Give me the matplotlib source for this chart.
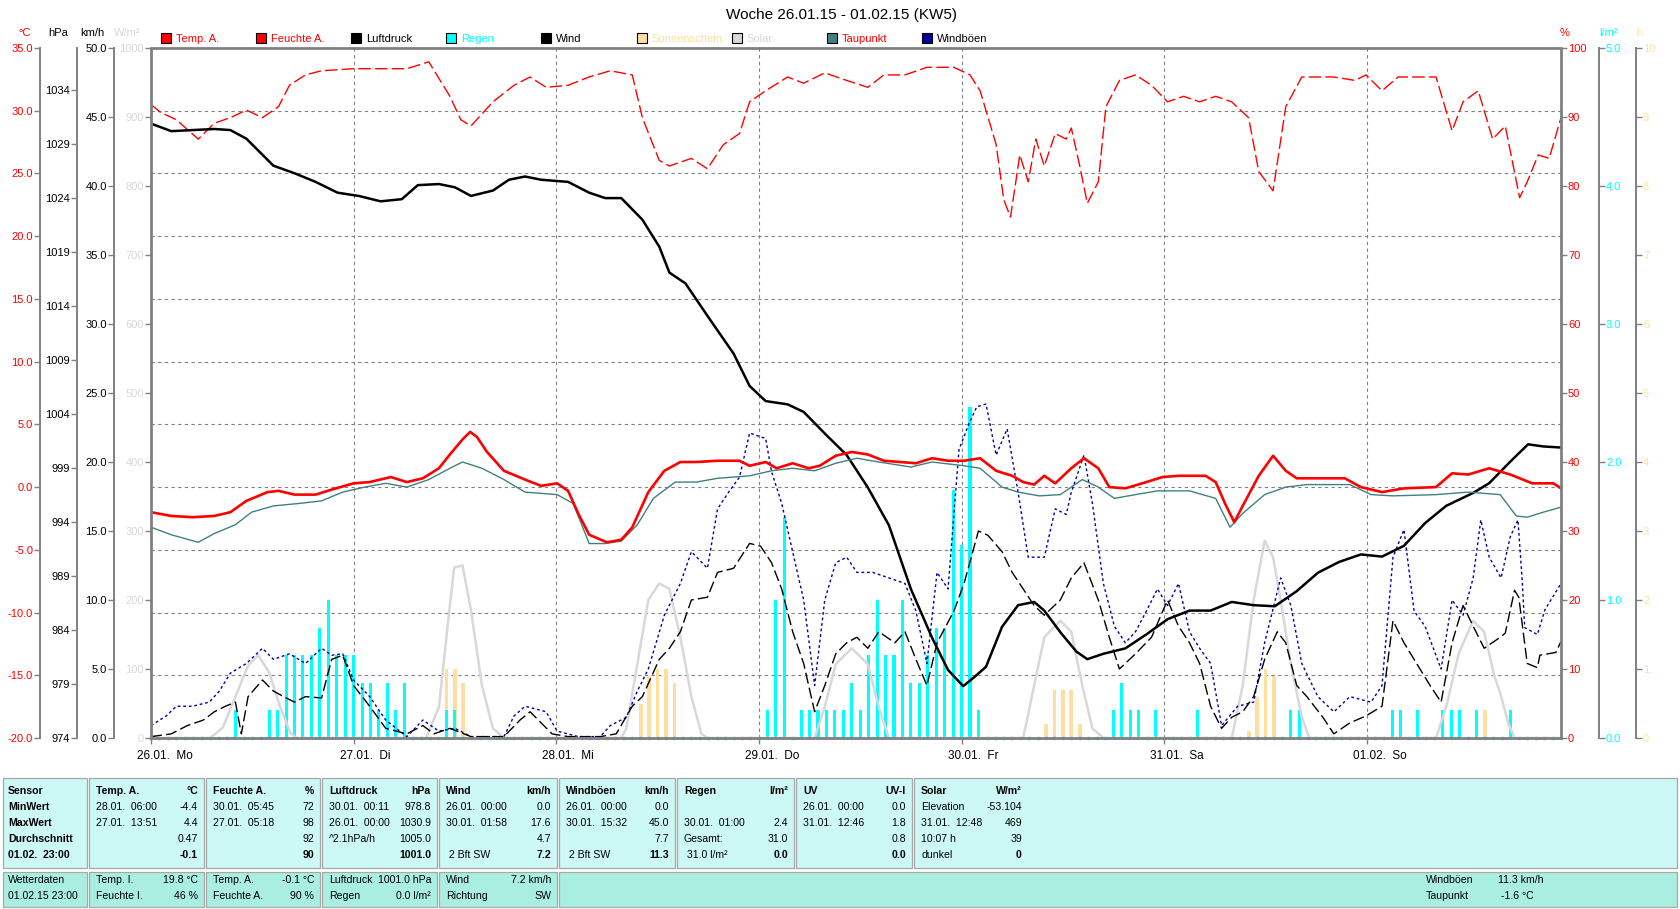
import matplotlib
matplotlib.use('Agg')
import matplotlib.pyplot as plt
import matplotlib.transforms as mtrans
from matplotlib.patches import Rectangle

plt.rcParams['font.family'] = ['Liberation Sans', 'DejaVu Sans']

# ---------------- data (hours since 26.01. 00:00) ----------------
day_hours = [0, 24, 48, 72, 96, 120, 144]
day_labels = ['26.01.  Mo', '27.01.  Di', '28.01.  Mi', '29.01.  Do',
              '30.01.  Fr', '31.01.  Sa', '01.02.  So']

temp_h = [0, 2.4, 4.9, 7.5, 9.4, 11.3, 13.8, 15.1, 17.0, 19.5, 21.4, 24.0, 25.9, 28.4,
          30.3, 32.2, 34.1, 35.4, 36.9, 37.8, 38.6, 39.8, 41.8, 44.3, 46.2, 48.1, 49.4,
          50.6, 51.9, 54.0, 55.7, 57.0, 58.9, 60.8, 62.7, 64.6, 67.1, 69.7, 70.9, 72.8,
          74.1, 76.0, 77.9, 79.2, 81.1, 83.0, 84.9, 86.8, 88.7, 90.6, 92.5, 94.4, 96.3,
          98.2, 100.1, 102.0, 103.3, 104.6, 105.8, 107.1, 109.0, 110.5, 112.2, 113.5,
          115.4, 117.9, 119.8, 121.7, 124.9, 126.1, 127.2, 128.3, 129.3, 131.2, 132.9,
          134.4, 135.7, 138.2, 141.4, 143.3, 145.8, 148.4, 152.2, 154.1, 156.0, 158.5,
          161.0, 163.6, 166.1, 167.0]
temp_v = [-2.0, -2.3, -2.4, -2.3, -2.0, -1.1, -0.4, -0.3, -0.6, -0.6, -0.2, 0.3, 0.4, 0.8,
          0.4, 0.7, 1.5, 2.6, 3.8, 4.4, 4.0, 2.8, 1.3, 0.6, 0.1, 0.3, -0.3,
          -2.1, -3.8, -4.4, -4.2, -3.2, -0.4, 1.3, 2.0, 2.0, 2.1, 2.1, 1.7, 2.0,
          1.5, 1.9, 1.5, 1.7, 2.5, 2.8, 2.6, 2.1, 2.0, 1.9, 2.3, 2.1, 2.1,
          2.3, 1.3, 0.9, 0.4, 0.2, 0.9, 0.3, 1.5, 2.3, 1.5, 0.0,
          -0.1, 0.4, 0.8, 0.9, 0.9, 0.4, -1.3, -2.8, -1.5, 0.9, 2.5,
          1.3, 0.7, 0.7, 0.7, 0.0, -0.4, -0.1, 0.0, 1.1, 1.0, 1.5,
          1.0, 0.3, 0.3, -0.1]

dew_h = [0, 2.4, 5.6, 7.5, 10.0, 11.9, 14.5, 17.6, 20.2, 22.7, 25.3, 27.8, 30.3, 32.9,
         35.4, 36.9, 39.2, 41.8, 44.3, 48.1, 50.0, 51.9, 53.8, 55.7, 57.6, 59.5, 62.1,
         64.6, 67.1, 70.9, 73.5, 76.0, 78.6, 81.1, 83.6, 86.2, 90.0, 92.5, 96.3, 98.2,
         100.8, 102.7, 105.2, 107.7, 110.3, 112.2, 114.1, 116.6, 119.2, 123.0, 126.1,
         127.8, 129.3, 131.9, 134.4, 136.9, 142.0, 144.5, 147.1, 152.2, 156.0, 159.8,
         161.7, 163.0, 164.9, 167.0]
dew_v = [-3.2, -3.8, -4.4, -3.7, -3.0, -2.0, -1.5, -1.3, -1.1, -0.4, 0.0, 0.3, 0.0, 0.6,
         1.5, 2.0, 1.5, 0.6, -0.4, -0.6, -1.3, -4.5, -4.5, -4.3, -3.0, -0.9, 0.4,
         0.4, 0.7, 0.9, 1.3, 1.5, 1.3, 1.9, 2.3, 2.0, 1.6, 2.0, 1.7, 1.5,
         0.0, -0.4, -0.7, -0.6, 0.6, 0.0, -0.9, -0.6, -0.3, -0.3, -0.9,
         -3.2, -2.1, -0.6, 0.0, 0.2, 0.2, -0.6, -0.7, -0.6, -0.4, -0.6,
         -2.3, -2.4, -2.0, -1.6]

hum_h = [0, 1.1, 3.0, 5.6, 7.5, 9.4, 11.3, 13.2, 15.1, 16.4, 18.3, 20.2, 24.0, 30.3,
         32.9, 35.4, 36.7, 37.9, 40.5, 43.0, 44.9, 46.8, 49.4, 51.9, 54.4, 57.0, 58.2,
         60.2, 61.4, 64.0, 65.9, 67.8, 69.7, 70.9, 72.8, 75.4, 77.3, 79.8, 82.4, 84.9,
         86.8, 89.3, 91.9, 95.1, 97.0, 98.2, 100.1, 101.0, 101.8, 102.9, 103.9, 104.8,
         105.8, 107.1, 108.4, 109.0, 110.0, 110.9, 112.2, 113.1, 114.7, 116.6, 118.5,
         120.4, 122.3, 124.2, 126.1, 128.0, 130.0, 131.2, 132.9, 134.4, 136.3, 140.1,
         142.6, 143.9, 145.8, 147.7, 152.2, 154.1, 155.4, 157.2, 158.9, 160.4, 162.1,
         163.0, 164.3, 165.6, 167.0]
hum_v = [91.8, 90.7, 89.6, 86.8, 89.1, 89.9, 91.0, 89.9, 91.5, 94.6, 96.1, 96.7, 97.0, 97.0,
         98.0, 93.0, 89.6, 88.7, 92.2, 94.6, 95.8, 94.3, 94.6, 95.8, 96.7, 96.1, 89.9,
         83.7, 82.9, 84.0, 82.5, 86.0, 87.6, 92.2, 93.8, 95.8, 94.9, 96.4, 95.3, 94.3,
         96.1, 96.1, 97.2, 97.2, 96.1, 93.8, 86.0, 78.0, 75.5, 84.5, 80.6, 86.8,
         82.9, 87.6, 86.8, 88.4, 82.9, 77.5, 80.6, 91.5, 95.3, 96.1, 94.6,
         92.2, 93.0, 92.2, 93.0, 92.2, 89.9, 82.1, 79.3, 91.5, 95.8, 95.8,
         95.3, 96.1, 93.8, 95.8, 95.8, 88.0, 92.2, 93.8, 86.8, 88.7, 78.3,
         80.6, 84.5, 84.0, 89.9]

pres_h = [0, 2.4, 7.5, 9.4, 11.3, 14.5, 17.0, 19.5, 22.1, 24.6, 27.2, 29.7, 31.6, 34.1,
          36.0, 37.9, 40.5, 42.4, 44.3, 46.2, 49.4, 51.9, 53.8, 55.7, 58.2, 60.2, 61.4,
          63.3, 65.9, 69.0, 70.9, 72.8, 75.4, 77.3, 79.8, 82.4, 84.9, 87.4, 90.0, 92.5,
          94.4, 96.2, 97.6, 98.9, 100.8, 102.7, 104.6, 105.8, 107.7, 109.6, 110.9, 112.8,
          115.4, 117.9, 120.4, 123.0, 125.5, 128.0, 130.6, 133.1, 135.7, 138.2, 140.7,
          143.3, 145.8, 148.4, 150.9, 153.4, 156.6, 158.5, 161.0, 163.1, 164.9, 167.0]
pres_v = [1030.9, 1030.2, 1030.4, 1030.3, 1029.5, 1027.0, 1026.3, 1025.5, 1024.5, 1024.2,
          1023.7, 1023.9, 1025.2, 1025.3, 1025.0, 1024.2, 1024.7, 1025.7, 1026.0, 1025.7,
          1025.5, 1024.5, 1024.0, 1024.0, 1022.0, 1019.5, 1017.1, 1016.1, 1013.1, 1009.6,
          1006.6, 1005.2, 1004.9, 1004.2, 1002.2, 1000.2, 997.2, 993.7, 987.8, 983.3,
          980.3, 978.8, 979.7, 980.6, 984.3, 986.3, 986.6, 985.8, 983.8, 982.0, 981.3,
          981.8, 982.3, 983.6, 985.0, 985.8, 985.8, 986.6, 986.3, 986.2, 987.6, 989.3,
          990.3, 991.0, 990.8, 991.8, 993.9, 995.5, 996.7, 997.6, 999.6, 1001.2, 1001.0,
          1000.9]

wind_h = [0, 2.4, 4.3, 6.2, 7.5, 8.8, 10.0, 10.7, 11.5, 13.2, 14.5, 15.7, 17.0, 18.3,
          20.2, 21.4, 22.7, 24.0, 25.9, 27.8, 30.3, 32.2, 33.5, 35.4, 37.9, 41.8, 43.7,
          44.9, 46.2, 47.5, 49.4, 53.2, 55.1, 57.0, 58.2, 60.2, 61.4, 62.7, 64.0, 65.9,
          67.1, 69.0, 70.9, 72.2, 73.5, 74.7, 76.0, 77.3, 78.6, 79.8, 81.1, 82.4, 83.6,
          84.9, 86.2, 88.1, 89.3, 90.6, 91.9, 93.1, 95.1, 96.3, 98.0, 99.1, 100.8, 102.0,
          103.3, 104.6, 105.8, 107.7, 109.0, 110.5, 112.2, 113.5, 114.7, 116.6, 118.5,
          120.4, 121.7, 123.0, 124.2, 125.5, 126.8, 128.0, 129.3, 130.6, 131.9, 133.4,
          134.4, 135.7, 136.9, 138.8, 140.1, 142.0, 143.9, 145.8, 147.1, 148.4, 149.6,
          151.5, 152.8, 154.1, 155.4, 156.6, 157.9, 159.8, 160.4, 161.5, 162.0, 163.0,
          164.2, 164.5, 166.4, 167.0]
wind_v = [0.1, 0.3, 0.9, 1.3, 1.9, 2.3, 2.6, 0.3, 3.0, 4.2, 3.4, 3.0, 2.6, 3.0,
          2.9, 5.7, 6.0, 3.8, 2.3, 0.7, 0.3, 0.9, 0.3, 0.7, 0.1, 0.1, 1.3,
          1.9, 1.1, 0.3, 0.1, 0.1, 0.3, 2.3, 3.0, 5.7, 6.5, 7.7, 10.0, 10.2,
          12.0, 12.3, 14.1, 13.9, 12.7, 10.8, 7.7, 5.4, 1.9, 3.8, 6.1, 6.9, 7.3,
          6.5, 7.7, 6.9, 7.7, 5.7, 3.8, 6.9, 9.2, 11.2, 15.0, 14.7, 13.5, 12.0,
          10.8, 9.6, 8.9, 10.0, 11.6, 12.7, 10.0, 7.3, 5.0, 6.1, 7.3,
          10.0, 8.1, 6.9, 5.4, 2.3, 0.7, 1.5, 1.9, 3.0, 5.7, 7.7,
          6.9, 3.8, 3.0, 1.5, 0.3, 1.1, 1.6, 2.3, 8.5, 6.9, 5.7,
          3.8, 2.6, 6.9, 9.6, 8.1, 6.5, 7.3, 7.6, 10.7, 10.2, 5.4,
          5.1, 6.0, 6.2, 7.0]

gust_h = [0, 1.8, 3.0, 4.9, 6.9, 8.1, 9.4, 11.3, 13.2, 14.5, 16.4, 18.3, 20.2, 21.4,
          22.7, 24.0, 25.9, 27.8, 30.3, 32.2, 34.1, 36.0, 37.9, 41.8, 43.0, 44.3, 45.6,
          46.8, 48.1, 50.6, 53.2, 54.4, 56.3, 57.6, 58.9, 60.8, 62.7, 64.0, 65.9, 67.1,
          68.4, 69.7, 70.9, 72.8, 73.5, 74.7, 76.0, 77.3, 78.6, 79.8, 81.1, 82.4, 83.6,
          85.5, 87.4, 89.3, 90.6, 91.9, 93.1, 94.4, 95.7, 96.9, 97.8, 98.9, 100.1, 101.4,
          102.7, 103.9, 105.8, 107.1, 108.4, 109.0, 110.5, 111.5, 112.8, 114.1, 115.4,
          116.6, 117.9, 119.2, 120.4, 121.7, 123.0, 124.2, 125.5, 126.8, 128.7, 130.6,
          131.9, 133.8, 135.0, 136.3, 138.2, 140.1, 142.0, 144.5, 145.8, 147.1, 148.4,
          149.6, 150.9, 152.8, 154.1, 155.4, 156.6, 157.5, 158.5, 159.9, 161.0, 161.9,
          162.4, 162.7, 164.2, 165.1, 167.0]
gust_v = [0.9, 1.6, 2.3, 2.3, 2.6, 3.4, 4.7, 5.4, 6.5, 5.7, 6.1, 5.4, 6.5, 6.0,
          6.1, 4.2, 3.0, 1.3, 0.1, 1.3, 0.5, 0.7, 0.1, 0.1, 1.6, 2.3, 2.1,
          1.9, 0.5, 0.1, 0.1, 0.9, 1.5, 3.4, 5.0, 8.9, 11.2, 13.5, 12.3, 16.6,
          17.8, 18.9, 22.1, 21.7, 19.3, 17.0, 13.5, 10.0, 3.8, 10.0, 12.7, 13.1, 12.0,
          12.0, 11.6, 11.2, 9.2, 5.4, 12.0, 10.8, 20.9, 22.8, 24.0, 24.2, 20.5, 22.4,
          17.8, 13.1, 13.1, 16.6, 16.2, 17.8, 20.5, 17.0, 11.2, 8.1, 6.9,
          7.7, 9.2, 10.8, 9.6, 11.2, 7.7, 6.5, 5.4, 0.9, 2.3, 2.6,
          6.9, 11.6, 9.6, 5.4, 3.0, 1.9, 3.0, 2.6, 3.8, 13.1, 15.1,
          9.2, 8.1, 5.0, 10.0, 8.9, 11.6, 15.8, 13.1, 11.6, 14.6, 15.8,
          11.5, 8.0, 7.5, 9.3, 11.2]

solar_h = [0, 7.0, 8.5, 10.0, 11.5, 12.7, 14.0, 15.3, 16.5, 17.2,
           32.6, 34.1, 35.2, 35.9, 36.9, 37.9, 39.2, 40.5, 41.8,
           55.7, 56.3, 57.6, 58.9, 60.2, 61.4, 62.7, 64.0, 65.2, 65.9,
           78.6, 79.8, 81.1, 83.0, 84.9, 86.2, 87.4,
           103.3, 104.6, 105.8, 107.7, 109.0, 110.3, 111.5, 112.8,
           128.0, 129.3, 130.6, 131.9, 132.9, 133.8, 135.0, 136.3, 137.2,
           152.2, 153.4, 154.9, 156.6, 157.9, 159.1, 159.8, 160.8, 161.5, 167.0]
solar_v = [0, 0, 15, 60, 105, 120, 95, 45, 8, 0,
           0, 45, 170, 247, 250, 185, 76, 14, 0,
           0, 14, 107, 200, 224, 216, 146, 60, 6, 0,
           0, 45, 107, 130, 107, 45, 0,
           0, 76, 146, 170, 154, 76, 14, 0,
           0, 76, 200, 286, 262, 200, 107, 30, 0,
           0, 45, 123, 170, 154, 90, 65, 20, 0, 0]

rain_h = [10, 14, 15, 16, 17, 18, 19, 20, 21, 22, 23, 24, 25, 26, 27, 28, 29, 30,
          35, 36,
          73, 74, 75, 77, 78, 79, 80, 81, 82, 83, 84, 85, 86, 87, 88, 89, 90, 91, 92,
          93, 94, 95, 96, 97, 98,
          114, 115, 116, 117, 119, 124, 135, 136, 147, 148, 150, 153, 154, 155, 157, 161]
rain_v = [0.2, 0.2, 0.2, 0.6, 0.6, 0.6, 0.6, 0.8, 1.0, 0.6, 0.6, 0.6, 0.4, 0.4, 0.2, 0.4,
          0.2, 0.4,
          0.2, 0.2,
          0.2, 1.0, 1.6, 0.2, 0.2, 0.2, 0.2, 0.2, 0.2, 0.4, 0.2, 0.6, 1.0, 0.6, 0.6, 1.0,
          0.4, 0.4, 0.6, 0.8, 0.8, 1.8, 1.4, 2.4, 0.2,
          0.2, 0.4, 0.2, 0.2, 0.2, 0.2, 0.2, 0.2, 0.2, 0.2, 0.2, 0.2, 0.2, 0.2, 0.2, 0.2]

sun_h = [35, 36, 37, 58, 59, 60, 61, 62, 106, 107, 108, 109, 110, 130, 131, 132, 133, 158]
sun_v = [1.0, 1.0, 0.8, 0.5, 0.9, 1.0, 1.0, 0.8, 0.2, 0.7, 0.7, 0.7, 0.2, 0.1, 0.6, 1.0,
         0.9, 0.4]

temp_ticks = [-20, -15, -10, -5, 0, 5, 10, 15, 20, 25, 30, 35]
pres_ticks = [974, 979, 984, 989, 994, 999, 1004, 1009, 1014, 1019, 1024, 1029, 1034]
wind_ticks = [0, 5, 10, 15, 20, 25, 30, 35, 40, 45, 50]
solar_ticks = [0, 100, 200, 300, 400, 500, 600, 700, 800, 900, 1000]
hum_ticks = [0, 10, 20, 30, 40, 50, 60, 70, 80, 90, 100]
rain_ticks = [0, 1, 2, 3, 4, 5]
sun_ticks = [0, 1, 2, 3, 4, 5, 6, 7, 8, 9, 10]

# ---------------- layout ----------------
W, H = 1680, 909
fig = plt.figure(figsize=(W / 100, H / 100), dpi=100)
PX = mtrans.Affine2D().scale(1 / W, -1 / H).translate(0, 1) + fig.transFigure
L, R, T, B = 151, 1561, 48, 738
PW = R - L
GRAY = '#808080'
RED = '#ff0000'
CYAN = '#00ffff'
WHEAT = '#ffdf9f'
LGRAY = '#d8d8d8'
TEAL = '#408080'
NAVY = '#0000a0'


def frac(xpx):
    return (xpx - L) / PW


ax = fig.add_axes([L / W, 1 - B / H, PW / W, (B - T) / H])
ax.set_xlim(0, 167)
ax.set_ylim(-20, 35)
for s in ax.spines.values():
    s.set_visible(False)
ax.spines['left'].set_visible(True)
ax.spines['left'].set_position(('axes', frac(40)))
ax.spines['left'].set_color(GRAY)
ax.spines['left'].set_linewidth(1.4)
ax.set_yticks(temp_ticks)
ax.set_yticklabels([f'{v:.1f}' for v in temp_ticks])
ax.tick_params(axis='y', colors=GRAY, labelcolor=RED, length=4, width=1, labelsize=8, pad=1)
ax.set_xticks(day_hours)
ax.set_xticklabels([])
ax.tick_params(axis='x', colors=GRAY, length=4, width=1)
ax.grid(True, color=GRAY, ls=(0, (3, 3)), lw=0.8)

xlab_tr = mtrans.blended_transform_factory(ax.transData, ax.transAxes) + \
    mtrans.ScaledTranslation(-0.14, -0.18, fig.dpi_scale_trans)
for h, lab in zip(day_hours, day_labels):
    ax.text(h, 0, lab, transform=xlab_tr, ha='left', va='center', fontsize=8.5, color='black')


def make_twin(side, xpx, lim, ticks, labels, lcolor, spine=True):
    a = ax.twinx()
    a.set_ylim(*lim)
    for s in a.spines.values():
        s.set_visible(False)
    sp = a.spines[side]
    sp.set_position(('axes', frac(xpx)))
    if spine:
        sp.set_visible(True)
        sp.set_color(GRAY)
        sp.set_linewidth(1.4)
    if side == 'left':
        a.yaxis.tick_left()
    else:
        a.yaxis.tick_right()
    a.set_yticks(ticks)
    a.set_yticklabels(labels)
    a.tick_params(axis='y', colors=GRAY, labelcolor=lcolor, length=4, width=1,
                  labelsize=8, pad=1)
    return a


a_sun = make_twin('right', 1636, (0, 10), sun_ticks, [str(v) for v in sun_ticks], WHEAT)
a_rain = make_twin('right', 1599, (0, 5), rain_ticks, [f'{v:.1f}' for v in rain_ticks], CYAN)
a_sol = make_twin('left', L, (0, 1000), solar_ticks, [str(v) for v in solar_ticks], LGRAY,
                  spine=False)
a_hum = make_twin('right', R, (0, 100), hum_ticks, [str(v) for v in hum_ticks], RED,
                  spine=False)
a_wind = make_twin('left', 114, (0, 50), wind_ticks, [f'{v:.1f}' for v in wind_ticks], 'black')
a_p = make_twin('left', 77, (974, 1037.9), pres_ticks, [str(v) for v in pres_ticks], 'black')
a_t = ax.twinx()
a_t.set_ylim(-20, 35)
a_t.axis('off')

# bars
a_sun.bar(sun_h, sun_v, width=0.45, color=WHEAT, zorder=2)
a_rain.bar(rain_h, rain_v, width=0.36, color=CYAN, zorder=2)
rain_set = set(rain_h)
zero_h = [h for h in range(0, 168) if h not in rain_set]
a_rain.plot(zero_h, [0] * len(zero_h), ls='none', marker='s', ms=1.6, color='#20d0d0',
            zorder=4, clip_on=False)

# lines
a_sol.plot(solar_h, solar_v, color=LGRAY, lw=1.8)
a_hum.plot(hum_h, hum_v, color=RED, lw=1.0, dashes=(9, 3))
a_wind.plot(gust_h, gust_v, color=NAVY, lw=1.0, dashes=(2, 2))
a_wind.plot(wind_h, wind_v, color='black', lw=1.0, dashes=(8, 3))
a_p.plot(pres_h, pres_v, color='black', lw=1.8)
a_t.plot(dew_h, dew_v, color=TEAL, lw=1.0)
a_t.plot(temp_h, temp_v, color=RED, lw=1.9)

a_t.add_patch(Rectangle((0, 0), 1, 1, transform=a_t.transAxes, fill=False, ec=GRAY,
                        lw=2.0, clip_on=False, zorder=10))

# ---------------- titles / headers / legend ----------------
fig.text(842, 15, 'Woche 26.01.15 - 01.02.15 (KW5)', transform=PX, ha='center', va='center',
         fontsize=11)
for x, s, c in [(25, '°C', RED), (58, 'hPa', 'black'), (92, 'km/h', 'black'),
                (127, 'W/m²', LGRAY), (1565, '%', RED), (1608, 'l/m²', CYAN),
                (1639, 'h', WHEAT)]:
    fig.text(x, 33, s, transform=PX, ha='center', va='center', fontsize=8, color=c)

legend = [('Temp. A.', RED, RED), ('Feuchte A.', RED, RED), ('Luftdruck', 'black', 'black'),
          ('Regen', CYAN, CYAN), ('Wind', 'black', 'black'),
          ('Sonnenschein', WHEAT, WHEAT), ('Solar', LGRAY, LGRAY),
          ('Taupunkt', TEAL, RED), ('Windböen', NAVY, 'black')]
for i, (name, sq, tc) in enumerate(legend):
    x0 = 161 + i * 95.1
    fig.add_artist(Rectangle((x0, 33), 10, 10, transform=PX, fc=sq, ec='black', lw=0.8))
    fig.text(x0 + 15, 38.5, name, transform=PX, ha='left', va='center', fontsize=8, color=tc)

# ---------------- tables ----------------
C1 = '#ccf8f5'
C2 = '#aaeee2'
cols = [2, 88, 205, 321, 438, 558, 676, 795, 913, 1678]


def cell(x0, x1, y0, y1, col):
    fig.add_artist(Rectangle((x0 + 1, y0), x1 - x0 - 2, y1 - y0, transform=PX, fc=col,
                             ec='#a8a8a8', lw=0.9))


for i in range(len(cols) - 1):
    cell(cols[i], cols[i + 1], 778, 868, C1)
cols2 = [2, 88, 205, 321, 438, 558, 1678]
for i in range(len(cols2) - 1):
    cell(cols2[i], cols2[i + 1], 872, 907, C2)

rows = [791, 807, 823, 839, 855]
FS = 7.6


def txt(x, y, s, ha='left', bold=False):
    fig.text(x, y, s, transform=PX, ha=ha, va='center', fontsize=FS,
             fontweight='bold' if bold else 'normal', color='black')


first_col = ['Sensor', 'MinWert', 'MaxWert', 'Durchschnitt', '01.02.  23:00']
for y, s in zip(rows, first_col):
    txt(8, y, s, bold=True)

table = [
    (('Temp. A.', '°C'), [('28.01.  06:00', '-4.4'), ('27.01.  13:51', '4.4'), ('', '0.47'),
                          ('', '-0.1')]),
    (('Feuchte A.', '%'), [('30.01.  05:45', '72'), ('27.01.  05:18', '98'), ('', '92'),
                           ('', '90')]),
    (('Luftdruck', 'hPa'), [('30.01.  00:11', '978.8'), ('26.01.  00:00', '1030.9'),
                            ('^2.1hPa/h', '1005.0'), ('', '1001.0')]),
    (('Wind', 'km/h'), [('26.01.  00:00', '0.0'), ('30.01.  01:58', '17.6'), ('', '4.7'),
                        (' 2 Bft SW', '7.2')]),
    (('Windböen', 'km/h'), [('26.01.  00:00', '0.0'), ('30.01.  15:32', '45.0'), ('', '7.7'),
                            (' 2 Bft SW', '11.3')]),
    (('Regen', 'l/m²'), [('', ''), ('30.01.  01:00', '2.4'), ('Gesamt:', '31.0'),
                         (' 31.0 l/m²', '0.0')]),
    (('UV', 'UV-I'), [('26.01.  00:00', '0.0'), ('31.01.  12:46', '1.8'), ('', '0.8'),
                      ('', '0.0')]),
    (('Solar', 'W/m²'), [('Elevation', '-53.104'), ('31.01.  12:48', '469'),
                         ('10:07 h', '39'), ('dunkel', '0')]),
]
for ci, ((hl, hr), body) in enumerate(table):
    x0 = cols[ci + 1] + 8
    x1 = cols[ci + 2] - 7 if ci < 7 else 1022
    txt(x0, rows[0], hl, bold=True)
    txt(x1, rows[0], hr, ha='right', bold=True)
    for ri, (l, r) in enumerate(body):
        last = ri == 3
        txt(x0, rows[ri + 1], l)
        txt(x1, rows[ri + 1], r, ha='right', bold=last)

rows2 = [880, 896]
table2 = [
    [('Wetterdaten', ''), ('01.02.15 23:00', '')],
    [('Temp. I.', '19.8 °C'), ('Feuchte I.', '46 %')],
    [('Temp. A.', '-0.1 °C'), ('Feuchte A.', '90 %')],
    [('Luftdruck', '1001.0 hPa'), ('Regen', '0.0 l/m²')],
    [('Wind', '7.2 km/h'), ('Richtung', 'SW')],
]
for ci, body in enumerate(table2):
    x0 = cols2[ci] + (6 if ci == 0 else 8)
    x1 = cols2[ci + 1] - 7
    for ri, (l, r) in enumerate(body):
        txt(x0, rows2[ri], l)
        if r:
            txt(x1, rows2[ri], r, ha='right')
txt(1426, rows2[0], 'Windböen')
txt(1543, rows2[0], '11.3 km/h', ha='right')
txt(1426, rows2[1], 'Taupunkt')
txt(1534, rows2[1], '-1.6 °C', ha='right')

fig.savefig('out.png', dpi=100)
